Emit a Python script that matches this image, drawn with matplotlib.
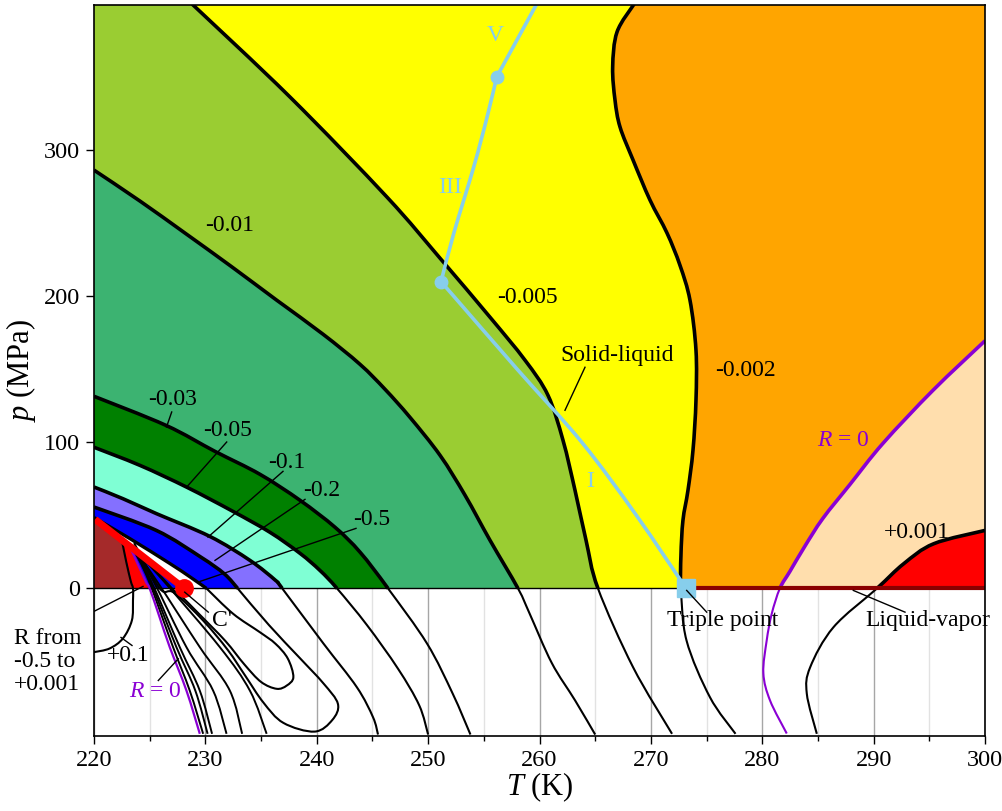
import numpy as np
import matplotlib
matplotlib.use("Agg")
import matplotlib.pyplot as plt
from matplotlib.path import Path
from matplotlib.patches import PathPatch

plt.rcParams['font.family'] = ['Liberation Serif', 'DejaVu Serif']
plt.rcParams['mathtext.fontset'] = 'custom'
plt.rcParams['mathtext.rm'] = 'Liberation Serif'
plt.rcParams['mathtext.it'] = 'Liberation Serif:italic'

T_MIN, T_MAX = 220.0, 300.0
P_MIN, P_MAX = -101.0, 399.3
P_TOP = 400.0

# ---- contour lines of R(T, p), each listed from the bottom edge upward ----
t_pos001 = [284.9, 284.0, 284.3, 286.4, 290.3, 292.7, 295.4, 300.0]
p_pos001 = [-99.5, -72.0, -54.0, -26.5, 0.0, 16.9, 30.6, 39.7]

t_r0 = [282.2, 280.7, 280.1, 280.4, 280.85, 281.58, 282.48, 283.82, 285.44, 287.88, 290.84, 295.33, 300.0]
p_r0 = [-99.3, -76.7, -58.0, -35.6, -17.4, 0.0, 11.6, 28.8, 47.9, 71.2, 99.3, 135.6, 169.5]

t_m0002 = [277.6, 275.3, 273.2, 272.7, 272.7, 272.88, 273.33, 273.78, 274.05, 274.05, 273.51,
           272.61, 271.45, 269.92, 268.4, 267.23, 266.78, 266.57, 266.96, 268.5]
p_m0002 = [-99.5, -74.4, -35.6, 0.0, 22.6, 46.6, 67.1, 94.5, 128.8, 163.0, 197.3,
           221.2, 243.2, 265.8, 293.2, 315.8, 334.2, 356.8, 380.8, 400.0]

t_m0005 = [271.9, 268.4, 265.25, 264.18, 263.19, 262.11, 260.76, 258.7, 255.56, 251.07, 246.31, 237.6, 228.8]
p_m0005 = [-99.5, -53.9, 0.0, 32.9, 67.1, 101.4, 132.2, 156.2, 185.6, 226.0, 267.8, 336.3, 400.0]

t_m001 = [265.0, 263.2, 261.1, 259.1, 258.07, 255.56, 253.32, 251.07, 248.37, 246.13, 243.88,
          240.56, 236.4, 232.3, 228.17, 224.13, 220.0]
p_m001 = [-100.0, -76.7, -51.0, -17.0, 0.0, 32.9, 63.7, 91.1, 117.1, 136.3, 153.4,
          174.0, 197.3, 220.5, 243.2, 265.1, 286.3]

t_m003 = [253.8, 252.2, 249.9, 246.4, 243.9, 241.65, 238.5, 234.9, 230.86, 226.46, 220.0]
p_m003 = [-100.0, -71.9, -37.7, 0.0, 24.7, 41.8, 60.3, 78.1, 93.8, 111.6, 131.5]

t_m005 = [250.0, 249.2, 247.3, 244.5, 241.82, 240.29, 238.5, 235.8, 232.48, 228.35, 224.13, 220.0]
p_m005 = [-100.0, -80.0, -55.0, -25.0, 0.0, 12.3, 24.0, 38.4, 52.7, 69.2, 84.2, 96.6]

t_m01 = [245.5, 245.05, 243.6, 240.6, 236.9, 236.3, 234.0, 230.4, 225.6, 222.6, 220.0]
p_m01 = [-100.0, -88.1, -67.6, -37.7, 0.0, 5.5, 19.2, 35.6, 51.2, 61.4, 69.4]

# R = -0.2: band edge above p = 0, closed loop below it
t_m02 = [232.9, 231.7, 229.6, 225.6, 220.0]
p_m02 = [0.0, 10.0, 21.4, 39.7, 55.7]
t_m02_loop = [232.9, 235.7, 238.4, 240.6, 241.9, 241.4, 239.8, 237.0, 235.2, 233.6, 232.0, 229.8, 227.2, 225.9, 223.6]
p_m02_loop = [0.0, -25.0, -47.0, -65.0, -79.0, -90.0, -98.0, -92.0, -78.0, -60.0, -42.0, -22.0, -3.0, 0.0, 31.0]

# R = -0.5: band edge above p = 0 (from the left edge), closed loop below it
t_m05 = [220.0, 223.2, 226.8, 228.6, 230.1]
p_m05 = [48.5, 34.2, 17.1, 8.0, 0.0]
t_m05_loop = [230.1, 232.5, 234.9, 236.3, 237.4, 237.9, 237.3, 236.4, 235.0, 233.5, 231.8, 229.5, 227.8, 227.0, 225.2, 223.4]
p_m05_loop = [0.0, -17.4, -30.0, -37.9, -48.0, -60.7, -66.5, -68.7, -64.0, -52.0, -36.0, -18.0, -5.0, 0.0, 15.0, 29.0]

# R = +0.1
t_pos01 = [220.0, 221.4, 222.6, 223.4, 223.5, 223.5, 223.3, 222.9, 222.5]
p_pos01 = [-43.6, -41.1, -34.2, -21.9, -8.2, 0.0, 5.0, 18.0, 33.1]

# R = 0 near the singular corner
t_r0_left = [229.5, 228.3, 226.8, 225.9, 225.0, 224.6, 223.2]
p_r0_left = [-99.5, -69.9, -40.2, -20.0, 0.0, 5.5, 29.0]

# fan of contours between -0.5 and +0.001 leaving the singular corner
p_fan = [-99.5, -70.0, -40.2, 5.5, 29.0]
t_fan = [
    [229.8, 228.6, 227.1, 224.9, 223.4],
    [230.2, 229.1, 227.4, 225.0, 223.4],
    [230.6, 229.5, 227.7, 225.1, 223.4],
    [231.9, 230.7, 228.3, 225.3, 223.4],
    [233.3, 232.2, 229.5, 225.6, 223.4],
    [235.5, 234.0, 231.3, 226.2, 223.4],
]

# red line ending at C'
t_red = [220.1, 228.1]
p_red = [47.3, 0.0]

# phase boundaries of ice
t_ice1 = [273.16, 268.7, 263.8, 258.0, 252.3, 251.16]
p_ice1 = [0.0, 50.0, 100.0, 150.0, 200.0, 209.9]
t_ice3 = [251.16, 252.3, 254.1, 255.3, 256.16]
p_ice3 = [209.9, 243.0, 288.6, 322.8, 350.1]
t_ice5 = [256.16, 259.75]
p_ice5 = [350.1, 400.0]
t_triple, p_triple = 273.16, 0.0
t_lv = [273.16, 300.0]
p_lv = [0.0, 0.0]

x_ticks = [220, 230, 240, 250, 260, 270, 280, 290, 300]
y_ticks = [0, 100, 200, 300]

BLACK = 'black'
PURPLE = '#8A00D4'
ICE = '#87CEEB'

fig = plt.figure(figsize=(10.02, 8.11), dpi=100)
ax = fig.add_axes([94 / 1002, 1 - 736 / 811, 891 / 1002, 731 / 811])
ax.set_xlim(T_MIN, T_MAX)
ax.set_ylim(P_MIN, P_MAX)


def segments(t, p):
    """Cubic Bezier pieces of a smooth (Catmull-Rom) curve through the points."""
    P = np.column_stack([t, p]).astype(float)
    n = len(P)
    out = []
    for i in range(n - 1):
        a = P[i - 1] if i > 0 else P[i]
        b, c = P[i], P[i + 1]
        d = P[i + 2] if i + 2 < n else P[i + 1]
        out.append((b, b + (c - a) / 6.0, c - (d - b) / 6.0, c))
    return out


def make_path(segs, corners=(), close=False):
    verts = [segs[0][0]]
    codes = [Path.MOVETO]
    for s in segs:
        if not np.allclose(verts[-1], s[0]):
            verts.append(s[0])
            codes.append(Path.LINETO)
        verts += [s[1], s[2], s[3]]
        codes += [Path.CURVE4] * 3
    for c in corners:
        verts.append(c)
        codes.append(Path.LINETO)
    if close:
        verts.append(verts[0])
        codes.append(Path.CLOSEPOLY)
    return Path(verts, codes)


def curve(segs, color, lw, z):
    ax.add_patch(PathPatch(make_path(segs), fill=False, edgecolor=color, lw=lw,
                           zorder=z, capstyle='butt', joinstyle='round'))


def zero_index(p):
    return [i for i, v in enumerate(p) if v == 0.0][0]


def left_region(t, p, color):
    """Fill the part of p >= 0 lying left of / above a contour."""
    i = zero_index(p)
    segs = segments(t, p)[i:]
    te, pe = t[-1], p[-1]
    corners = []
    if te >= T_MAX:
        corners += [(T_MAX, P_TOP), (T_MIN, P_TOP)]
    elif pe >= P_TOP - 1:
        corners += [(T_MIN, P_TOP)]
    corners += [(T_MIN, 0.0)]
    ax.add_patch(PathPatch(make_path(segs, corners, close=True), facecolor=color,
                           edgecolor='none', lw=0, zorder=1))


# filled bands above p = 0
ax.fill([T_MIN, T_MAX, T_MAX, T_MIN], [0, 0, P_TOP, P_TOP], color='#FF0000', lw=0, zorder=1)
bands = [
    (t_pos001, p_pos001, '#FFDEAD'),
    (t_r0, p_r0, '#FFA500'),
    (t_m0002, p_m0002, '#FFFF00'),
    (t_m0005, p_m0005, '#9ACD32'),
    (t_m001, p_m001, '#3CB371'),
    (t_m003, p_m003, '#008000'),
    (t_m005, p_m005, '#7FFFD4'),
    (t_m01, p_m01, '#8470FF'),
    (t_m02, p_m02, '#0000FF'),
]
for t, p, c in bands:
    left_region(t, p, c)

# white wedge between the R = -0.5 edge and the red line
wedge = make_path(segments(t_m05, p_m05), corners=[(t_red[1], p_red[1]), (t_red[0], p_red[0])],
                  close=True)
ax.add_patch(PathPatch(wedge, facecolor='white', edgecolor='none', zorder=1.2))

# brown corner and red sliver next to R = 0
brown_t = [T_MIN, T_MIN, 222.5] + t_pos01[::-1][1:4]
brown_p = [0.0, 47.3, 33.1] + p_pos01[::-1][1:4]
ax.fill(brown_t, brown_p, color='#A52A2A', lw=0, zorder=1.3)
ax.fill([222.5, 223.5, 225.0, 223.2], [33.1, 0.0, 0.0, 29.0], color='#FF0000', lw=0, zorder=1.3)

# grid visible only where nothing is filled
ax.set_xticks(x_ticks)
ax.set_xticks(np.arange(225, 300, 10), minor=True)
ax.set_yticks(y_ticks)
ax.grid(axis='x', which='major', color='#a6a6a6', lw=1.0, zorder=0)
ax.grid(axis='x', which='minor', color='#e2e2e2', lw=1.0, zorder=0)
ax.set_axisbelow(True)

# contour lines: thick above p = 0, thin below
for t, p, c in [(t_pos001, p_pos001, BLACK), (t_m0002, p_m0002, BLACK),
                (t_m0005, p_m0005, BLACK), (t_m001, p_m001, BLACK),
                (t_m003, p_m003, BLACK), (t_m005, p_m005, BLACK),
                (t_m01, p_m01, BLACK), (t_r0, p_r0, PURPLE)]:
    i = zero_index(p)
    segs = segments(t, p)
    curve(segs[i:], c, 2.6, 3)
    curve(segs[:i], c, 1.5, 3)

curve(segments(t_m02, p_m02), BLACK, 2.6, 3)
curve(segments(t_m02_loop, p_m02_loop), BLACK, 1.5, 3)
curve(segments(t_m05, p_m05), BLACK, 2.4, 3)
curve(segments(t_m05_loop, p_m05_loop), BLACK, 1.5, 3)
curve(segments(t_pos01, p_pos01), BLACK, 1.5, 3)
for tf in t_fan:
    curve(segments(tf, p_fan), BLACK, 1.4, 3)
curve(segments(t_r0_left, p_r0_left), PURPLE, 1.6, 3.2)

# p = 0 and the liquid-vapor line
ax.axhline(0, color=BLACK, lw=1.0, zorder=2.5)
ax.plot(t_lv, p_lv, color='#8B0000', lw=3.0, zorder=4, solid_capstyle='butt')

# red line to C'
ax.plot(t_red, p_red, color='#FF0000', lw=5.0, zorder=5, solid_capstyle='butt')
ax.plot(t_red[-1], p_red[-1], 'o', color='#FF0000', ms=12.5, zorder=5)

# ice phase boundaries
curve(segments(t_ice1, p_ice1), ICE, 2.6, 6)
curve(segments(t_ice3, p_ice3), ICE, 2.6, 6)
curve(segments(t_ice5, p_ice5), ICE, 2.6, 6)
ax.plot([t_ice3[0], t_ice3[-1]], [p_ice3[0], p_ice3[-1]], 'o', color=ICE, ms=9, zorder=6)
ax.plot(t_triple, p_triple, 's', color=ICE, ms=13, zorder=6.5)

# ---- annotations ----
FS = 17


def px(x, y):
    """Figure pixel position -> data coordinates."""
    return (T_MIN + (x - 94) / 11.1375, (588 - y) / 1.46)


def label(x, y, s, color=BLACK, ha='center', **kw):
    ax.text(*px(x, y), s, color=color, fontsize=FS, ha=ha, va='center', zorder=8, **kw)


def leader(x0, y0, x1, y1):
    a, b = px(x0, y0)
    c, d = px(x1, y1)
    ax.plot([a, c], [b, d], color=BLACK, lw=1.0, zorder=7)


label(230, 225, '-0.01')
label(527, 297, '-0.005')
label(745, 370, '-0.002')
label(917, 532, '+0.001')
label(843, 440, r'$\mathit{R}$ = 0', color=PURPLE)
label(617, 355, 'Solid-liquid')
leader(585, 367, 565, 410)

label(173, 399, '-0.03')
leader(171.7, 411.7, 166.5, 426.7)
label(228, 430, '-0.05')
leader(226.7, 441.7, 186.7, 486.7)
label(287, 462, '-0.1')
leader(283, 471, 208, 536.7)
label(322, 490, '-0.2')
leader(305, 499, 215, 560)
label(372, 519, '-0.5')
leader(356, 528, 200, 581)

label(222, 620, "C'")
leader(208.3, 611.7, 184.7, 591.7)
label(128, 655, '+0.1')
leader(132, 645, 121, 637)
label(155, 691, r'$\mathit{R}$ = 0', color=PURPLE)
leader(158.3, 680, 178.3, 658.3)
ax.text(*px(14, 661), 'R from\n-0.5 to\n+0.001', fontsize=FS, ha='left', va='center',
        linespacing=1.1, zorder=8)
leader(86, 615, 143, 586)

label(723, 620, 'Triple point')
leader(706.7, 611.7, 686.7, 590)
label(928, 620, 'Liquid-vapor')
leader(905, 611.7, 853.3, 590)

label(495, 35, 'V', color=ICE)
label(450, 187, 'III', color=ICE)
label(590, 481, 'I', color=ICE)

# ---- axes ----
for s in ax.spines.values():
    s.set_linewidth(1.2)
    s.set_zorder(9)
ax.tick_params(axis='both', which='major', direction='out', length=6, width=1.0,
               labelsize=17.5, pad=4)
ax.tick_params(axis='x', which='minor', direction='out', length=3.5, width=1.0)
ax.tick_params(axis='y', which='minor', left=False)
ax.set_xlabel(r'$\mathit{T}$ (K)', fontsize=22, labelpad=0)
ax.set_ylabel(r'$\mathit{p}$ (MPa)', fontsize=22, labelpad=4)

fig.savefig('out.png', dpi=100)
